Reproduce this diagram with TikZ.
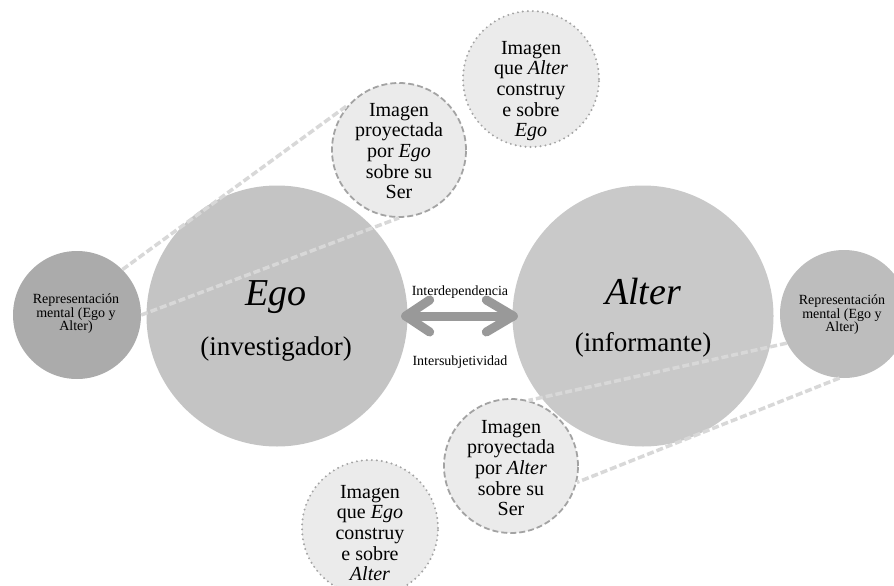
\documentclass[tikz,border=0pt]{standalone}
\usepackage{fontspec}
\setmainfont{Liberation Serif}
\definecolor{egofill}{HTML}{C4C4C4}
\definecolor{alterfill}{HTML}{C9C9C9}
\definecolor{repLfill}{HTML}{ABABAB}
\definecolor{repRfill}{HTML}{BDBDBD}
\definecolor{imgfill}{HTML}{EBEBEB}
\definecolor{rimgray}{HTML}{A3A3A3}
\definecolor{linkgray}{HTML}{D8D8D8}
\definecolor{arrowgray}{HTML}{999999}
\begin{document}
\begin{tikzpicture}[x=1pt,y=-1pt,
  disc/.style={circle,inner sep=0pt,draw=none},
  dashdisc/.style={circle,inner sep=0pt,fill=imgfill,draw=rimgray,line width=1.8pt,dash pattern=on 6pt off 3pt},
  dotdisc/.style={circle,inner sep=0pt,fill=imgfill,draw=rimgray,line width=2.2pt,line cap=round,dash pattern=on 0pt off 5pt},
  link/.style={draw=linkgray,line width=3.5pt,dash pattern=on 7pt off 3pt},
  dblarrow/.style={draw=arrowgray,line width=9pt,line cap=round,line join=round},
  imgtext/.style={align=center,inner sep=0pt,font=\fontsize{20}{20.6}\selectfont},
  reptext/.style={align=center,inner sep=0pt,font=\fontsize{14}{13.5}\selectfont},
  smalltext/.style={inner sep=0pt,font=\fontsize{14}{14}\selectfont},
  bigname/.style={anchor=base,inner sep=0pt,font=\fontsize{38}{38}\selectfont\itshape},
  bigrole/.style={anchor=base,inner sep=0pt,font=\fontsize{27}{27}\selectfont}]
\useasboundingbox (0,0) rectangle (894,586);
\clip (0,0) rectangle (894,586);
% big and representation discs
\node[disc,fill=egofill,minimum size=261] (ego) at (277,316) {};
\node[disc,fill=alterfill,minimum size=261] (alter) at (643,316) {};
\node[disc,fill=repLfill,minimum size=128] (repL) at (77,315) {};
\node[disc,fill=repRfill,minimum size=128] (repR) at (844,314) {};
% image discs
\node[dashdisc,minimum size=134] (projE) at (399,150) {};
\node[dotdisc,minimum size=136] (viewA) at (531,79) {};
\node[dashdisc,minimum size=134] (projA) at (511,466) {};
\node[dotdisc,minimum size=136] (viewE) at (370,528) {};
% connectors between representation and projection discs
\draw[link] (repL.45) -- (projE.138);
\draw[link] (repL.east) -- (projE.south);
\draw[link] (repR.207) -- (projA.75);
\draw[link] (repR.266) -- (projA.-14);
% double arrow
\coordinate (tipL) at ([xshift=-2pt]ego.east);
\coordinate (tipR) at ([xshift=1pt]alter.west);
\draw[dblarrow] (tipL) -- (tipR);
\draw[dblarrow] ([shift={(24,-16)}]tipL) -- (tipL) -- ([shift={(24,16)}]tipL);
\draw[dblarrow] ([shift={(-27,-16)}]tipR) -- (tipR) -- ([shift={(-27,16)}]tipR);
% texts
\node[bigname] (egoN) at (276,305) {Ego};
\node[bigrole] (egoR) at (276,355) {(investigador)};
\node[bigname] (alterN) at (643,304) {Alter};
\node[bigrole] (alterR) at (643,351) {(informante)};
\node[reptext] (repLT) at (76,314) {Representación\\mental (Ego y\\Alter)};
\node[reptext] (repRT) at (842,315) {Representación\\mental (Ego y\\Alter)};
\node[imgtext] (projET) at (399,151) {Imagen\\proyectada\\por \textit{Ego}\\sobre su\\Ser};
\node[imgtext] (viewAT) at (531,91) {Imagen\\que \textit{Alter}\\construy\\e sobre\\\textit{Ego}};
\node[imgtext] (projAT) at (511,468) {Imagen\\proyectada\\por \textit{Alter}\\sobre su\\Ser};
\node[imgtext] (viewET) at (370,533) {Imagen\\que \textit{Ego}\\construy\\e sobre\\\textit{Alter}};
\node[smalltext] (interd) at (460,292) {Interdependencia};
\node[smalltext] (inters) at (460,362) {Intersubjetividad};
\end{tikzpicture}
\end{document}
